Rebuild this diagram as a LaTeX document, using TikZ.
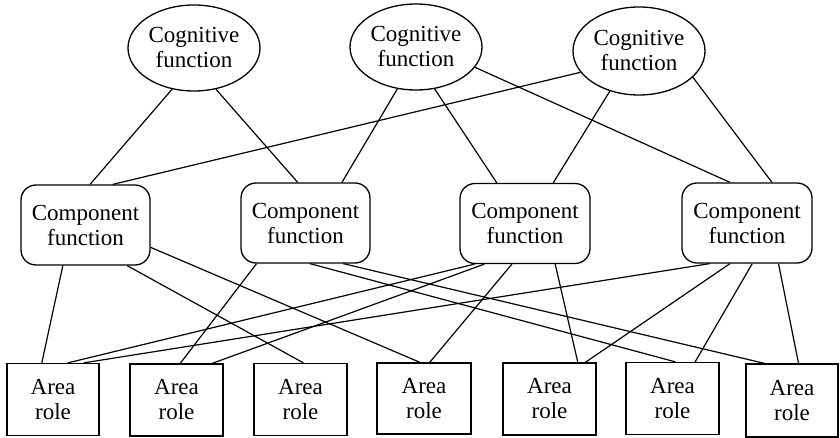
\documentclass[tikz,border=0pt]{standalone}
\usepackage{fontspec}
\setmainfont{Liberation Serif}
\newfontfamily\figserif{Liberation Serif}
\usetikzlibrary{shapes.geometric,calc}
\tikzset{
  lbl/.style={font=\figserif\fontsize{23}{25}\selectfont, align=center, inner sep=0pt, line width=1.3pt, draw=black},
  cog/.style={lbl, ellipse, minimum width=132pt, minimum height=86pt},
  comp/.style={lbl, rectangle, rounded corners=15pt, minimum width=129pt, minimum height=80pt},
  area/.style={lbl, rectangle, minimum width=92pt, minimum height=72pt},
  link/.style={line width=1.2pt, draw=black}
}
\begin{document}
\begin{tikzpicture}[x=1pt,y=-1pt]
\useasboundingbox (0,0) rectangle (840,438);
\node[cog] (C1) at (194,48) {Cognitive\\function};
\node[cog] (C2) at (416,47) {Cognitive\\function};
\node[cog, minimum height=88pt] (C3) at (639,51) {Cognitive\\function};

\node[comp] (B1) at (85.5,225) {Component\\function};
\node[comp] (B2) at (305.5,223) {Component\\function};
\node[comp, minimum width=130pt] (B3) at (525,223.5) {Component\\function};
\node[comp, minimum width=130pt] (B4) at (747,223) {Component\\function};

\node[area] (A1) at (53,399.5) {Area\\role};
\node[area, minimum width=93pt] (A2) at (176.5,400) {Area\\role};
\node[area, minimum width=93pt] (A3) at (300.5,399.5) {Area\\role};
\node[area, minimum width=94pt, minimum height=71pt] (A4) at (424,398.5) {Area\\role};
\node[area, minimum width=93pt] (A5) at (549.5,399) {Area\\role};
\node[area, minimum width=93pt] (A6) at (672.5,398.5) {Area\\role};
\node[area, minimum width=92pt, minimum height=73pt] (A7) at (792,400.5) {Area\\role};

% cognitive -> component
\draw[link] (C1.242) -- ($(B1.north west)!0.535!(B1.north east)$);
\draw[link] (C1.298) -- ($(B2.north west)!0.44!(B2.north east)$);
\draw[link] (C2.246) -- ($(B2.north west)!0.78!(B2.north east)$);
\draw[link] (C2.294) -- ($(B3.north west)!0.285!(B3.north east)$);
\draw[link] (C2.341.6) -- ($(B4.north west)!0.37!(B4.north east)$);
\draw[link] (C3.200.5) -- ($(B1.north west)!0.71!(B1.north east)$);
\draw[link] (C3.234.7) -- ($(B3.north west)!0.715!(B3.north east)$);
\draw[link] (C3.334.3) -- ($(B4.north west)!0.69!(B4.north east)$);

% component -> area
\draw[link] ($(B1.south west)!0.326!(B1.south east)$) -- ($(A1.north west)!0.38!(A1.north east)$);
\draw[link] ($(B1.south west)!0.82!(B1.south east)$) -- ($(A3.north west)!0.53!(A3.north east)$);
\draw[link] ($(B1.north east)!0.775!(B1.south east)$) -- ($(A4.north west)!0.457!(A4.north east)$);
\draw[link] ($(B2.south west)!0.124!(B2.south east)$) -- ($(A2.north west)!0.54!(A2.north east)$);
\draw[link] ($(B2.south west)!0.535!(B2.south east)$) -- ($(A6.north west)!0.53!(A6.north east)$);
\draw[link] ($(B2.south west)!0.79!(B2.south east)$) -- ($(A7.north west)!0.204!(A7.north east)$);
\draw[link] ($(B3.south west)!0.115!(B3.south east)$) -- ($(A1.north west)!0.66!(A1.north east)$);
\draw[link] ($(B3.south west)!0.19!(B3.south east)$) -- ($(A2.north west)!0.88!(A2.north east)$);
\draw[link] ($(B3.south west)!0.4!(B3.south east)$) -- ($(A4.north west)!0.56!(A4.north east)$);
\draw[link] ($(B3.south west)!0.73!(B3.south east)$) -- ($(A5.north west)!0.8!(A5.north east)$);
\draw[link] ($(B4.south west)!0.215!(B4.south east)$) -- ($(A1.north west)!0.83!(A1.north east)$);
\draw[link] ($(B4.south west)!0.37!(B4.south east)$) -- ($(A5.north west)!0.88!(A5.north east)$);
\draw[link] ($(B4.south west)!0.54!(B4.south east)$) -- ($(A6.north west)!0.74!(A6.north east)$);
\draw[link] ($(B4.south west)!0.74!(B4.south east)$) -- ($(A7.north west)!0.57!(A7.north east)$);
\end{tikzpicture}
\end{document}
